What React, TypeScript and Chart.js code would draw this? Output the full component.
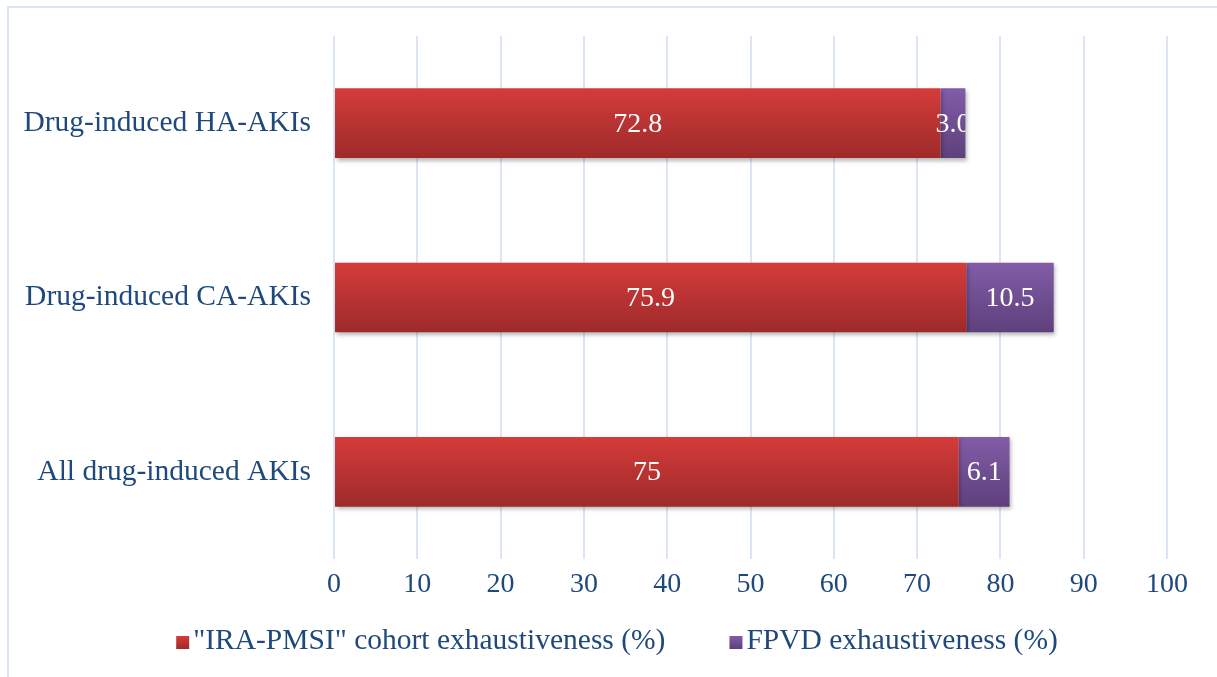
import React, { useEffect, useRef } from "react";
import { Chart, registerables } from "chart.js";

Chart.register(...registerables);

const categories = ["Drug-induced HA-AKIs", "Drug-induced CA-AKIs", "All drug-induced AKIs"];
const seriesNames = ['"IRA-PMSI" cohort exhaustiveness (%)', "FPVD exhaustiveness (%)"];
const irapmsiValues = [72.8, 75.9, 75];
const fpvdValues = [3.0, 10.5, 6.1];
const irapmsiLabels = ["72.8", "75.9", "75"];
const fpvdLabels = ["3.0", "10.5", "6.1"];
const xTicks = [0, 10, 20, 30, 40, 50, 60, 70, 80, 90, 100];

const TEXT = "#1F497D";
const FONT = "Liberation Serif";
const FS = 28;
const FS_CAT = 29.5;
const GRID = "#DCE6F2";
const redTop = "rgb(212,60,58)";
const redBot = "rgb(158,42,42)";
const purTop = "rgb(130,92,168)";
const purBot = "rgb(94,64,124)";

function barGradient(ctx: any, top: string, bot: string) {
  const chart = ctx.chart;
  const y = chart.scales && chart.scales.y;
  if (!chart.chartArea || !y || ctx.dataIndex === undefined) return top;
  const c = y.getPixelForValue(ctx.dataIndex);
  const band = Math.abs(y.getPixelForValue(1) - y.getPixelForValue(0));
  const half = band * 0.2;
  const g = chart.ctx.createLinearGradient(0, c - half, 0, c + half);
  g.addColorStop(0, top);
  g.addColorStop(1, bot);
  return g;
}

const framePlugin = {
  id: "frame",
  beforeDraw(chart: any) {
    const ctx = chart.ctx;
    ctx.save();
    ctx.fillStyle = "#ffffff";
    ctx.fillRect(0, 0, chart.width, chart.height);
    ctx.strokeStyle = GRID;
    ctx.lineWidth = 2;
    ctx.strokeRect(8, 7, chart.width + 20, chart.height + 20);
    ctx.restore();
  },
};

const shadowPlugin = {
  id: "barShadow",
  beforeDatasetsDraw(chart: any) {
    const ctx = chart.ctx;
    ctx.save();
    ctx.shadowColor = "rgba(0,0,0,0.28)";
    ctx.shadowBlur = 4;
    ctx.shadowOffsetX = 1.5;
    ctx.shadowOffsetY = 2.5;
  },
  afterDatasetsDraw(chart: any) {
    chart.ctx.restore();
  },
};

const labelPlugin = {
  id: "valueLabels",
  afterDatasetsDraw(chart: any) {
    const ctx = chart.ctx;
    const labelSets = [irapmsiLabels, fpvdLabels];
    const m0 = chart.getDatasetMeta(0);
    const m1 = chart.getDatasetMeta(1);
    ctx.save();
    ctx.font = `${FS}px "${FONT}"`;
    ctx.fillStyle = "#ffffff";
    ctx.textAlign = "center";
    ctx.textBaseline = "middle";
    [m0, m1].forEach((meta: any, di: number) => {
      meta.data.forEach((bar: any, i: number) => {
        const p = bar.getProps(["x", "y", "base", "height"], true);
        const endX = m1.data[i].getProps(["x"], true).x;
        const cx = (p.x + p.base) / 2;
        ctx.save();
        ctx.beginPath();
        ctx.rect(0, p.y - p.height / 2, endX, p.height);
        ctx.clip();
        ctx.fillText(labelSets[di][i], cx, p.y + 1);
        ctx.restore();
      });
    });
    ctx.restore();
  },
};

const legendPlugin = {
  id: "customLegend",
  afterDraw(chart: any) {
    const ctx = chart.ctx;
    ctx.save();
    ctx.font = `${FS_CAT}px "${FONT}"`;
    const box = 13;
    const gapBoxText = 4;
    const gapItems = 64;
    const w0 = ctx.measureText(seriesNames[0]).width;
    const w1 = ctx.measureText(seriesNames[1]).width;
    const total = box + gapBoxText + w0 + gapItems + box + gapBoxText + w1;
    let x = 617 - total / 2;
    const cy = 641;
    const cols = [
      [redTop, redBot],
      [purTop, purBot],
    ];
    [w0, w1].forEach((w, i) => {
      const g = ctx.createLinearGradient(0, cy - 5, 0, cy + 8);
      g.addColorStop(0, cols[i][0]);
      g.addColorStop(1, cols[i][1]);
      ctx.fillStyle = g;
      ctx.fillRect(x, cy - 5, box, box);
      x += box + gapBoxText;
      ctx.fillStyle = TEXT;
      ctx.textAlign = "left";
      ctx.textBaseline = "middle";
      ctx.fillText(seriesNames[i], x, cy);
      x += w + gapItems;
    });
    ctx.restore();
  },
};

export default function App() {
  const ref = useRef<HTMLCanvasElement>(null);
  useEffect(() => {
    if (!ref.current) return;
    const chart = new Chart(ref.current, {
      type: "bar",
      data: {
        labels: categories,
        datasets: [
          {
            label: seriesNames[0],
            data: irapmsiValues,
            backgroundColor: (c: any) => barGradient(c, redTop, redBot),
            categoryPercentage: 0.8,
            barPercentage: 0.5,
          },
          {
            label: seriesNames[1],
            data: fpvdValues,
            backgroundColor: (c: any) => barGradient(c, purTop, purBot),
            categoryPercentage: 0.8,
            barPercentage: 0.5,
          },
        ],
      },
      options: {
        indexAxis: "y",
        animation: false,
        responsive: false,
        maintainAspectRatio: false,
        layout: { padding: { top: 36, right: 50, bottom: 0, left: 0 } },
        plugins: {
          legend: { display: false },
          tooltip: { enabled: false },
        },
        scales: {
          x: {
            stacked: true,
            min: 0,
            max: 100,
            afterBuildTicks: (s: any) => {
              s.ticks = xTicks.map((v) => ({ value: v }));
            },
            afterFit: (s: any) => {
              s.height = 118;
              s.paddingLeft = 0;
              s.paddingRight = 0;
            },
            grid: { color: GRID, lineWidth: 2, drawTicks: false },
            border: { display: false },
            ticks: {
              color: TEXT,
              font: { family: FONT, size: FS },
              padding: 9,
              maxRotation: 0,
            },
          },
          y: {
            stacked: true,
            afterFit: (s: any) => {
              s.width = 334;
              s.paddingTop = 0;
              s.paddingBottom = 0;
            },
            grid: { display: false, drawTicks: false },
            border: { display: false },
            ticks: {
              color: TEXT,
              font: { family: FONT, size: FS_CAT },
              padding: 23,
            },
          },
        },
      },
      plugins: [framePlugin, shadowPlugin, labelPlugin, legendPlugin],
    });
    return () => chart.destroy();
  }, []);
  return (
    <div style={{ position: "fixed", left: 0, top: 0, width: 1217, height: 677 }}>
      <canvas ref={ref} width={1217} height={677} style={{ display: "block" }} />
    </div>
  );
}
